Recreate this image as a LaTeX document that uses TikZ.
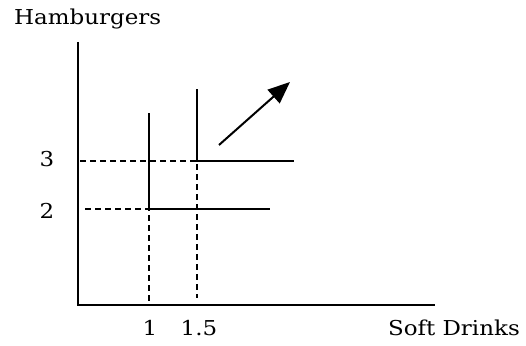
\documentclass[tikz,border=0pt]{standalone}
\usepackage{fontspec}
\usepackage{graphicx}
\setmainfont{DejaVu Serif}
\usetikzlibrary{arrows.meta}
\newcommand{\widetext}[1]{\scalebox{1.12}[1]{#1}}
\begin{document}
\begin{tikzpicture}[x=1pt,y=-1pt,
  axis/.style={line width=2pt},
  curve/.style={line width=2.5pt},
  guide/.style={line width=2.8pt,dash pattern=on 6pt off 4pt},
  lbl/.style={inner sep=0pt,font=\fontsize{20.5}{24}\selectfont}]
\useasboundingbox (0,0) rectangle (526,345);
% axes
\coordinate (top) at (78,42);
\coordinate (o) at (78,305);
\coordinate (xe) at (435,305);
\draw[axis] (top) -- (o) -- (xe);
% points
\coordinate (a) at (149,209);
\coordinate (b) at (197,161);
\coordinate (a1) at (149,113);
\coordinate (a2) at (270,209);
\coordinate (b1) at (197,89);
\coordinate (b2) at (294,161);
\coordinate (ay) at (85,209);
\coordinate (by) at (80,161);
\coordinate (ax) at (149,305);
\coordinate (bx) at (197,298);
% indifference curves
\draw[curve] (a1) -- (a) -- (a2);
\draw[curve] (b1) -- (b) -- (b2);
% guides
\draw[guide] (ay) -- (a) -- (ax);
\draw[guide] (by) -- (b) -- (bx);
% arrow
\coordinate (s) at (219,145);
\coordinate (e) at (290,82);
\draw[line width=2pt,-{Triangle[length=22pt,width=18pt]}] (s) -- (e);
% labels
\node[lbl,anchor=base west] (h) at (14,25) {\widetext{Hamburgers}};
\node[lbl] (l3) at (47,159) {\widetext{3}};
\node[lbl] (l2) at (47,211) {\widetext{2}};
\node[lbl] (l1) at (150,328) {\widetext{1}};
\node[lbl] (l15) at (199,328) {\widetext{1.5}};
\node[lbl,anchor=base east] (sd) at (520,335) {\widetext{Soft Drinks}};
\end{tikzpicture}
\end{document}
